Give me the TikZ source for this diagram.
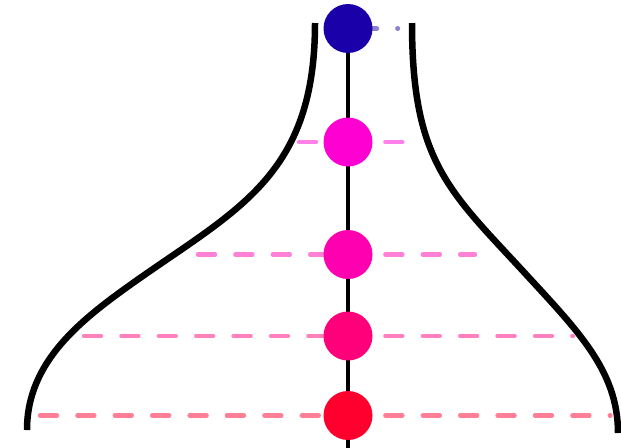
\documentclass[tikz,border=0pt]{standalone}
\usetikzlibrary{backgrounds}
\definecolor{lvlA}{RGB}{26,0,168}
\definecolor{lvlB}{RGB}{255,0,210}
\definecolor{lvlC}{RGB}{255,0,176}
\definecolor{lvlD}{RGB}{255,0,122}
\definecolor{lvlE}{RGB}{255,0,46}
\begin{document}
\begin{tikzpicture}[
    x=0.02cm, y=-0.02cm,
    dot/.style={circle, inner sep=0pt, minimum size=0.98cm},
    wall/.style={line width=0.13cm},
    stem/.style={line width=0.075cm},
    rung/.style={line width=0.088cm, line cap=round, dash pattern=on 0.34cm off 0.408cm},
]
\useasboundingbox (0,0) rectangle (621,447);
\node[dot, fill=lvlA] (lvl1) at (348,28.5) {};
\node[dot, fill=lvlB] (lvl2) at (348,142) {};
\node[dot, fill=lvlC] (lvl3) at (348,254.5) {};
\node[dot, fill=lvlD] (lvl4) at (348,336) {};
\node[dot, fill=lvlE] (lvl5) at (348,415.5) {};
\coordinate (base) at (348,452);
\begin{pgfonlayer}{background}
% funnel walls
\draw[wall] (315,23) .. controls (315,173) and (240,208) .. (140,278)
    .. controls (83,318) and (27,360) .. (27,430);
\draw[wall] (412,23) .. controls (412,160) and (448,190) .. (522,270)
    .. controls (577,330) and (618,370) .. (618,433);
% levels
\draw[rung, lvlA!50!white] (360,28.5) -- (398,28.5);
\draw[rung, lvlB!50!white] (299,142) -- (lvl2.center);
\draw[rung, lvlB!50!white] (lvl2.center) -- (404,142);
\draw[rung, lvlC!50!white] (198,254.5) -- (lvl3.center);
\draw[rung, lvlC!50!white] (lvl3.center) -- (475,254.5);
\draw[rung, lvlD!50!white] (84,336) -- (lvl4.center);
\draw[rung, lvlD!50!white] (lvl4.center) -- (573,336);
\draw[rung, lvlE!50!white] (40,415.5) -- (lvl5.center);
\draw[rung, lvlE!50!white] (lvl5.center) -- (610.5,415.5);
% stem
\draw[stem] (lvl1.center) -- (base);
\end{pgfonlayer}
\end{tikzpicture}
\end{document}
